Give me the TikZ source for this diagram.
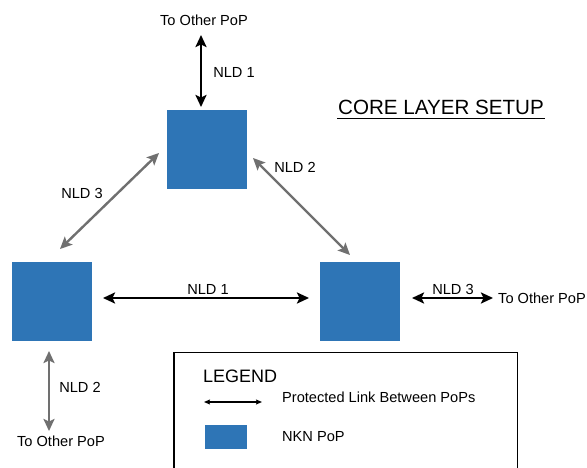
\documentclass[tikz,border=0pt]{standalone}
\usepackage{fontspec}
\setmainfont{Liberation Sans}
\usetikzlibrary{arrows.meta}
\definecolor{popblue}{RGB}{46,117,182}
\definecolor{linkgray}{RGB}{112,112,112}
\begin{document}
\begin{tikzpicture}[x=1pt,y=-1pt,
  pop/.style={fill=popblue,draw=none,inner sep=0pt,minimum width=80pt,minimum height=79pt},
  lbl/.style={inner sep=0pt,font=\fontsize{14.6}{17}\selectfont},
  blink/.style={line width=2.4pt,black,{Stealth[length=12pt,width=11pt,inset=2.5pt]}-{Stealth[length=12pt,width=11pt,inset=2.5pt]}},
  glink/.style={line width=2.4pt,linkgray,{Stealth[length=12pt,width=11pt,inset=2.5pt]}-{Stealth[length=12pt,width=11pt,inset=2.5pt]}},
  slink/.style={line width=1.4pt,black,{Stealth[length=6pt,width=5pt,inset=1pt]}-{Stealth[length=6pt,width=5pt,inset=1pt]}}]
\clip (0,0) rectangle (587,468);
\fill[white] (0,0) rectangle (587,468);
% PoPs
\node[pop] (top) at (207,150) {};
\node[pop] (left) at (52,301) {};
\node[pop] (right) at (359.5,301) {};
% free ends
\coordinate (topA) at (201,35);
\coordinate (topB) at (201,107);
\coordinate (n2a) at (253,158);
\coordinate (n2b) at (350,255);
\coordinate (n3a) at (159,153);
\coordinate (n3b) at (60,249);
\coordinate (h1a) at (103,298);
\coordinate (h1b) at (309,298);
\coordinate (r3a) at (412,298);
\coordinate (r3b) at (493,298);
\coordinate (l2a) at (49,351);
\coordinate (l2b) at (49,431);
% links
\draw[blink] (topA) -- (topB);
\draw[glink] (n2a) -- (n2b);
\draw[glink] (n3a) -- (n3b);
\draw[blink] (h1a) -- (h1b);
\draw[blink] (r3a) -- (r3b);
\draw[glink] (l2a) -- (l2b);
% labels
\node[lbl] (t1) at (204,20) {To Other PoP};
\node[lbl] (l1) at (234,72) {NLD 1};
\node[lbl] (l2) at (295,167) {NLD 2};
\node[lbl] (l3) at (82,193) {NLD 3};
\node[lbl] (l4) at (208,289) {NLD 1};
\node[lbl] (l5) at (453,289) {NLD 3};
\node[lbl,anchor=west] (t2) at (498,298) {To Other PoP};
\node[lbl] (l6) at (80,387) {NLD 2};
\node[lbl] (t3) at (61,441) {To Other PoP};
% title
\node[inner sep=0pt,font=\fontsize{20.6}{24}\selectfont] (title) at (441,107) {CORE LAYER SETUP};
\draw[line width=1.3pt] (337,118.5) -- (545,118.5);
% legend
\draw[line width=1.5pt] (174,352.5) rectangle (517.5,480);
\node[inner sep=0pt,font=\fontsize{18}{21}\selectfont,anchor=west] (lg) at (203,376) {LEGEND};
\coordinate (la) at (204,402);
\coordinate (lb) at (262,402);
\draw[slink] (la) -- (lb);
\node[lbl,anchor=west] (lt1) at (282,397) {Protected Link Between PoPs};
\node[fill=popblue,inner sep=0pt,minimum width=42pt,minimum height=24pt] (lsq) at (226,437) {};
\node[lbl,anchor=west] (lt2) at (282,437) {NKN PoP};
\end{tikzpicture}
\end{document}
